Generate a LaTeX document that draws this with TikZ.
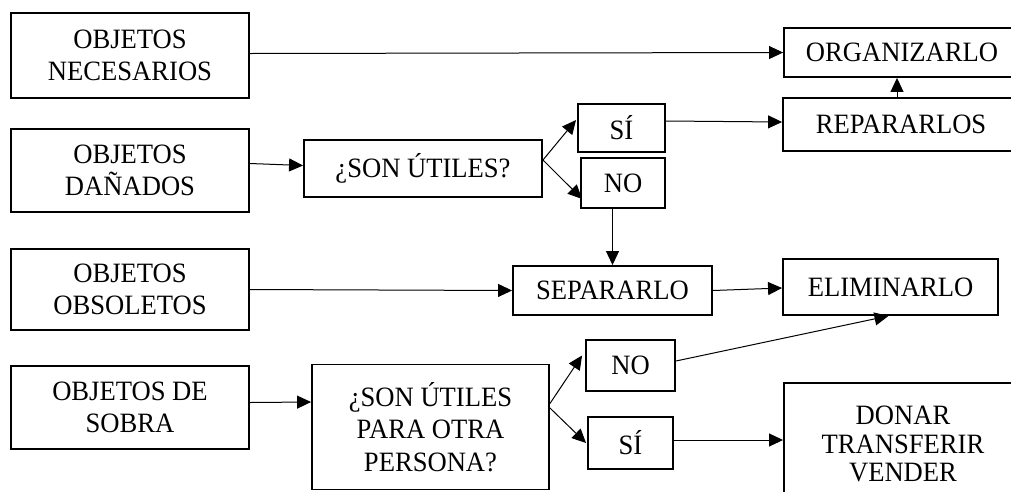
\documentclass[tikz,border=0pt]{standalone}
\usepackage{fontspec}
\setmainfont{Liberation Serif}[FakeStretch=0.95]
\usetikzlibrary{arrows.meta,calc}
\tikzset{
  box/.style={draw=black, line width=1.9pt, align=center, inner sep=0pt,
    font=\fontsize{28}{32}\selectfont, text=black},
  conn/.style={line width=1pt, -{Triangle[length=14pt,width=13pt]}},
}
\begin{document}
\begin{tikzpicture}[x=1pt,y=-1pt]
\useasboundingbox[fill=white] (0,0) rectangle (1011,491);
% left column
\node[box, minimum width=238pt, minimum height=85pt] (nec) at (130,55.5) {OBJETOS\\NECESARIOS};
\node[box, minimum width=238pt, minimum height=83pt] (dan) at (130,170.5) {OBJETOS\\DAÑADOS};
\node[box, minimum width=238pt, minimum height=81pt] (obs) at (130,289.5) {OBJETOS\\OBSOLETOS};
\node[box, minimum width=238pt, minimum height=83pt] (sob) at (130,407.5) {OBJETOS DE\\SOBRA};
% questions
\node[box, minimum width=238pt, minimum height=57pt] (q1) at (423,168.5) {¿SON ÚTILES?};
\node[box, minimum width=237pt, minimum height=125pt, font=\fontsize{28}{32.5}\selectfont] (q2) at (430.5,427) {¿SON ÚTILES\\PARA OTRA\\PERSONA?};
% answers
\node[box, minimum width=87pt, minimum height=48pt] (si1) at (621.5,128) {SÍ};
\node[box, minimum width=84pt, minimum height=50pt] (no1) at (623,183) {NO};
\node[box, minimum width=89pt, minimum height=51pt] (no2) at (630.5,365.5) {NO};
\node[box, minimum width=85pt, minimum height=52pt] (si2) at (630.5,443) {SÍ};
% actions
\node[box, minimum width=199pt, minimum height=49pt] (sep) at (612.5,290.5) {SEPARARLO};
\node[box, minimum width=215pt, minimum height=56pt] (eli) at (890.5,287) {ELIMINARLO};
\node[box, minimum width=236pt, minimum height=49pt] (org) at (902,52.5) {ORGANIZARLO};
\node[box, minimum width=236pt, minimum height=53pt] (rep) at (901,124.5) {REPARARLOS};
\node[box, minimum width=238pt, minimum height=122pt, font=\fontsize{28}{28.5}\selectfont] (don) at (903,444) {DONAR\\TRANSFERIR\\VENDER};
% connectors
\draw[conn] ($(nec.east)+(0,-2)$) -- (org.west);
\draw[conn] ($(dan.east)+(0,-7)$) -- ($(q1.west)+(0,-3)$);
\draw[conn] ($(q1.east)+(0,-8.5)$) -- ($(si1.west)+(-1,-8)$);
\draw[conn] ($(q1.east)+(0,-8.5)$) -- ($(no1.south west)+(2,-10)$);
\draw[conn] ($(si1.east)+(0,-7)$) -- ($(rep.west)+(0,-2.5)$);
\draw[conn] ($(rep.north)+(-4,0)$) -- ($(org.south)+(-5,0)$);
\draw[conn] (no1.south -| sep.north) -- (sep.north);
\draw[conn] (obs.east) -- (sep.west);
\draw[conn] (sep.east) -- ($(eli.west)+(0,1)$);
\draw[conn] ($(sob.east)+(0,-5)$) -- ($(q2.west)+(0,-25)$);
\draw[conn] ($(q2.east)+(0,-23.5)$) -- ($(no2.west)+(-3,-10)$);
\draw[conn] ($(q2.east)+(0,-19)$) -- ($(si2.west)+(-1,0)$);
\draw[conn] ($(no2.east)+(0,-4.5)$) -- ($(eli.south)+(-2,0)$);
\draw[conn] ($(si2.east)+(0,-3)$) -- ($(don.west)+(0,-4)$);
\end{tikzpicture}
\end{document}
